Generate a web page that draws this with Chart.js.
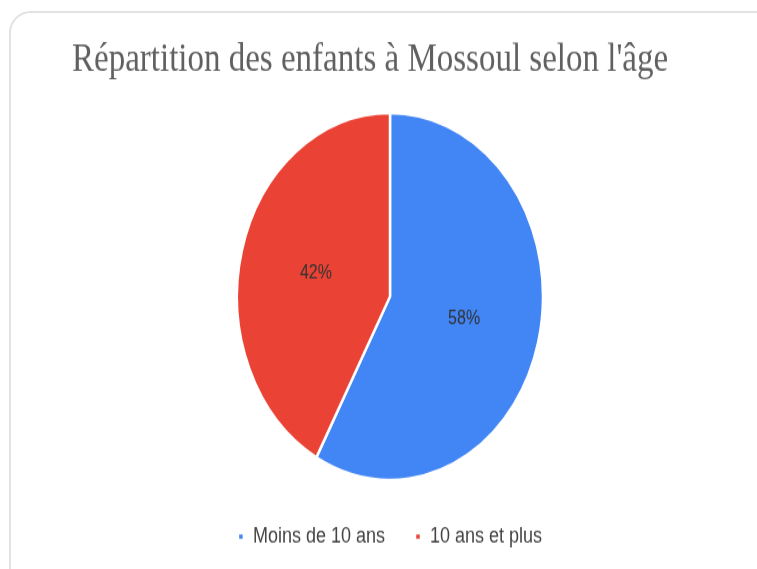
<!DOCTYPE html>
<html>
<head>
<meta charset="utf-8">
<script src="https://cdn.jsdelivr.net/npm/chart.js@4"></script>
<style>
  html, body { margin: 0; padding: 0; background: #fff; overflow: hidden; }
  body { width: 757px; height: 569px; position: relative; }
  #carte {
    position: absolute; left: 9px; top: 11px; width: 780px; height: 600px;
    border: 2px solid #e2e2e2; border-radius: 22px; box-sizing: border-box;
  }
  /* l'original est étiré verticalement */
  #zone {
    position: absolute; left: 0; top: 0; width: 757px; height: 474px;
    transform: scaleY(1.2004); transform-origin: 0 0;
  }
</style>
</head>
<body>
<div id="carte"></div>
<div id="zone"><canvas id="graficoEta"></canvas></div>
<script>
const categorie = ['Moins de 10 ans', '10 ans et plus'];
const valori = [58, 42];
const colori = ['#4285F4', '#EA4335'];
const titolo = "Répartition des enfants à Mossoul selon l'âge";

const etichettePercentuali = {
    id: 'etichettePercentuali',
    afterDatasetsDraw(chart) {
        const ctx = chart.ctx;
        const meta = chart.getDatasetMeta(0);
        const totale = valori.reduce((a, b) => a + b, 0);
        ctx.save();
        ctx.font = '16px "Liberation Sans", Arial, sans-serif';
        ctx.fillStyle = '#333333';
        ctx.textAlign = 'center';
        ctx.textBaseline = 'middle';
        meta.data.forEach((arc, i) => {
            const p = arc.getProps(['x', 'y', 'startAngle', 'endAngle', 'outerRadius'], true);
            const medio = (p.startAngle + p.endAngle) / 2;
            const r = p.outerRadius * 0.5;
            ctx.fillText(Math.round(valori[i] / totale * 100) + '%',
                p.x + Math.cos(medio) * r, p.y + Math.sin(medio) * r);
        });
        ctx.restore();
    }
};

new Chart(document.getElementById('graficoEta'), {
    type: 'pie',
    data: {
        labels: categorie,
        datasets: [{
            data: valori,
            backgroundColor: colori,
            borderColor: 'white',
            borderWidth: 2.5,
            radius: 153
        }]
    },
    options: {
        responsive: true,
        maintainAspectRatio: false,
        animation: false,
        layout: { padding: { top: 34, left: 72, right: 49, bottom: 8 } },
        plugins: {
            title: {
                display: true,
                text: titolo,
                align: 'start',
                color: '#606060',
                font: { family: '"Liberation Serif", "Times New Roman", serif', size: 33, weight: 'normal', lineHeight: 1 },
                padding: { top: 0, bottom: 19 }
            },
            legend: {
                position: 'bottom',
                labels: {
                    usePointStyle: true,
                    pointStyle: 'rect',
                    boxWidth: 6,
                    boxHeight: 6,
                    padding: 30,
                    color: '#444444',
                    font: { family: '"Liberation Sans", Arial, sans-serif', size: 18 }
                }
            },
            tooltip: { enabled: false }
        }
    },
    plugins: [etichettePercentuali]
});
</script>
</body>
</html>
